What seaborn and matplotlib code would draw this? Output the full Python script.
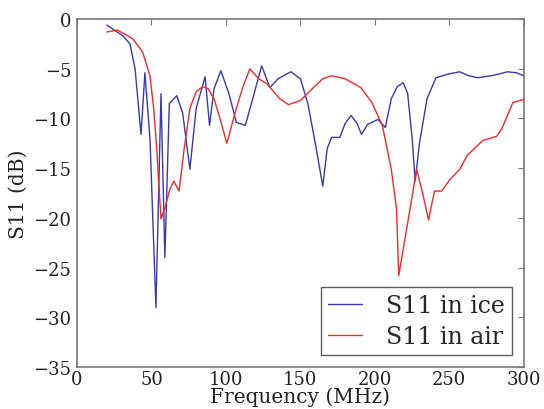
import matplotlib
matplotlib.use("Agg")
import matplotlib.pyplot as plt
import seaborn as sns
import pandas as pd

ice_freq = [20, 31, 35.6, 39, 43, 45.6, 49, 53, 56.4, 59, 62, 67, 71, 75.8, 80, 86, 89, 92, 96.6,
            102, 107, 113, 118, 124, 129.5, 135, 143.6, 150, 155, 160, 165, 168, 171, 176.5, 180,
            184, 188, 191, 195, 202, 207, 211, 215, 219, 222, 225, 227, 230, 235, 241, 250, 257,
            263, 269, 278, 284, 289, 295, 300]
ice_db = [-0.6, -1.7, -2.5, -5.0, -11.6, -5.4, -12.0, -29.0, -7.5, -24.0, -8.5, -7.7, -9.5, -15.1,
          -9.0, -5.8, -10.7, -7.0, -5.2, -7.5, -10.4, -10.7, -8.0, -4.7, -6.9, -6.0, -5.3, -6.0,
          -8.5, -12.5, -16.8, -13.0, -11.9, -11.9, -10.5, -9.7, -10.5, -11.6, -10.6, -10.1, -10.9,
          -8.0, -6.8, -6.4, -7.5, -12.0, -16.3, -12.4, -8.0, -5.9, -5.5, -5.3, -5.7, -5.9, -5.7,
          -5.5, -5.3, -5.4, -5.7]

air_freq = [20, 27, 32, 37.6, 44, 49, 51.5, 53.5, 56.4, 59, 62.4, 65, 68.5, 72, 75.8, 80, 84.5,
            88, 92, 96, 100.6, 106, 111, 116, 122, 127.5, 136, 142, 150, 158, 165, 171, 180,
            190.6, 198, 205, 211, 214.5, 216, 222, 228, 232, 236, 240, 244.8, 250, 257, 262,
            272.5, 281.6, 285, 292.6, 299.5]
air_db = [-1.3, -1.1, -1.5, -2.0, -3.3, -5.7, -9.0, -13.0, -20.1, -19.0, -17.1, -16.3, -17.3,
          -13.0, -9.0, -7.3, -6.8, -7.0, -8.0, -10.0, -12.5, -9.5, -7.0, -5.0, -6.0, -6.5, -8.0,
          -8.6, -8.2, -7.0, -6.0, -5.7, -6.0, -6.9, -8.4, -10.7, -15.1, -19.1, -25.8, -20.5,
          -15.1, -17.5, -20.2, -17.3, -17.3, -16.2, -15.1, -13.7, -12.2, -11.8, -11.1, -8.4,
          -8.1]

series_names = ["S11 in ice", "S11 in air"]
x_ticks = [0, 50, 100, 150, 200, 250, 300]
y_ticks = [0, -5, -10, -15, -20, -25, -30, -35]

df = pd.concat([
    pd.DataFrame({"freq": ice_freq, "db": ice_db, "series": series_names[0]}),
    pd.DataFrame({"freq": air_freq, "db": air_db, "series": series_names[1]}),
], ignore_index=True)

sns.set_style("white")
plt.rcParams["font.family"] = ["DejaVu Serif"]
plt.rcParams["mathtext.fontset"] = "dejavuserif"

fig = plt.figure(figsize=(5.44, 4.10), dpi=100)
ax = fig.add_axes([0.1415, 0.1024, 0.8215, 0.8486])

sns.lineplot(data=df, x="freq", y="db", hue="series", hue_order=series_names,
             palette=["#3a3aa8", "#ee2a2a"], linewidth=1.0, ax=ax, sort=False,
             estimator=None, legend=True)

ax.set_xlim(0, 300)
ax.set_ylim(-35, 0)
ax.set_xticks(x_ticks)
ax.set_yticks(y_ticks)
ax.tick_params(direction="in", length=4, width=0.8, top=True, right=True,
               labelsize=13, colors="#777777", labelcolor="#222222", pad=4)
ax.tick_params(axis="x", pad=2)
for s in ax.spines.values():
    s.set_color("#777777")
    s.set_linewidth(1.2)
ax.set_xlabel("Frequency (MHz)", fontsize=14.5, labelpad=-1, color="#222222")
ax.set_ylabel("S11 (dB)", fontsize=14.5, labelpad=4, color="#222222")

leg = ax.legend(loc="lower right", fontsize=17, frameon=True, fancybox=False,
                handlelength=1.45, handletextpad=1.0, borderaxespad=0.5,
                labelspacing=0.35, borderpad=0.3)
leg.get_frame().set_edgecolor("#333333")
leg.get_frame().set_linewidth(1.0)

fig.savefig("out.png", dpi=100)
